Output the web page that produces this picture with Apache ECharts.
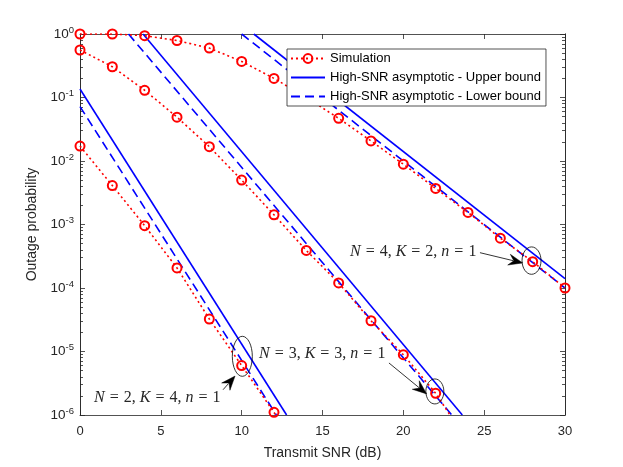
<!DOCTYPE html>
<html>
<head>
<meta charset="utf-8">
<script src="https://cdn.jsdelivr.net/npm/echarts@6/dist/echarts.min.js"></script>
<style>
  html, body { margin: 0; padding: 0; background: #fff; }
  #chart { width: 623px; height: 467px; }
</style>
</head>
<body>
<div id="chart"></div>
<script>
// x: transmit SNR (dB)
const snr = [0, 2, 4, 6, 8, 10, 12, 14, 16, 18, 20, 22, 24, 26, 28, 30];

// simulation points (outage probability)
const simN4K2 = [1.0, 1.0, 0.94, 0.79, 0.60, 0.37, 0.20, 0.10, 0.047, 0.0207, 0.0089, 0.0037, 0.00155, 6.1e-4, 2.6e-4, 1.0e-4];
const simN3K3 = [0.56, 0.305, 0.13, 0.049, 0.0168, 0.0050, 0.00142, 3.9e-4, 1.2e-4, 3.05e-5, 8.9e-6, 2.2e-6, 3.7e-7];
const simN2K4 = [0.0172, 0.0041, 9.6e-4, 2.07e-4, 3.25e-5, 6.0e-6, 1.1e-6, 1.6e-7];

// high-SNR asymptotes (straight in log scale, end points only)
const upperN4K2X = [10.75, 30], upperN4K2Y = [1, 1.4e-4];
const lowerN4K2X = [10, 30],    lowerN4K2Y = [1, 1.0e-4];
const upperN3K3X = [3.9, 23.65], upperN3K3Y = [1, 1e-6];
const lowerN3K3X = [3.0, 23.0],  lowerN3K3Y = [1, 1e-6];
const upperN2K4X = [0, 12.78],  upperN2K4Y = [0.136, 1e-6];
const lowerN2K4X = [0, 12.15],  lowerN2K4Y = [0.072, 1e-6];

// tick values
const decadeTicks = [1e-6, 1e-5, 1e-4, 1e-3, 1e-2, 1e-1, 1];
const minorTicks = [];
for (let e = -6; e < 0; e++) {
  for (let m = 2; m <= 9; m++) minorTicks.push(m * Math.pow(10, e));
}

const simName = 'Simulation';
const upName = 'High-SNR asymptotic - Upper bound';
const lowName = 'High-SNR asymptotic - Lower bound';

const axisColor = '#262626';
const sans = '"Liberation Sans", Arial, sans-serif';
const serif = '"Liberation Serif", serif';

function pairs(xs, ys) {
  return ys.map((y, i) => [xs[i], y]);
}

function simSeries(ys) {
  return {
    name: simName, type: 'line', data: pairs(snr, ys),
    symbol: 'circle', symbolSize: 9,
    itemStyle: { color: 'rgba(0,0,0,0)', borderColor: '#ff0000', borderWidth: 2 },
    lineStyle: { color: '#ff0000', width: 1.6, type: [2, 3] },
    color: '#ff0000',
    clip: true, z: 3
  };
}
function boundSeries(name, xs, ys, dashed) {
  return {
    name: name, type: 'line', data: pairs(xs, ys),
    showSymbol: false, symbol: 'none',
    color: '#0000ff',
    lineStyle: { color: '#0000ff', width: 1.6, type: dashed ? [9, 5] : 'solid' },
    clip: true, z: 2
  };
}

function logAxis(pos, withLabels, ticks, len) {
  return {
    type: 'log', logBase: 10, min: 1e-6, max: 1, position: pos,
    axisLine: { show: true, onZero: false, lineStyle: { color: axisColor, width: 0.8 } },
    axisTick: { show: true, inside: true, length: len, customValues: ticks, lineStyle: { color: axisColor, width: 0.8 } },
    axisLabel: withLabels ? {
      show: true, customValues: ticks, margin: 6, color: axisColor,
      formatter: v => '{b|10}{e|' + Math.round(Math.log10(v)) + '}',
      rich: {
        b: { fontFamily: sans, fontSize: 13.5, color: axisColor },
        e: { fontFamily: sans, fontSize: 9.5, color: axisColor, verticalAlign: 'top', padding: [0, 0, 8, 0] }
      }
    } : { show: false },
    splitLine: { show: false },
    minorTick: { show: false }
  };
}

let chart = echarts.init(document.getElementById('chart'));

let yMain = logAxis('left', true, decadeTicks, 5);
yMain.name = 'Outage probability';
yMain.nameLocation = 'middle';
yMain.nameGap = 40;
yMain.nameTextStyle = { fontFamily: sans, fontSize: 14, color: axisColor };

// bound entries: plain line in the legend, no marker
const noMarker = { color: 'rgba(0,0,0,0)', borderColor: 'rgba(0,0,0,0)', borderWidth: 0, opacity: 0 };

let option = {
  animation: false,
  backgroundColor: '#fff',
  grid: { left: 80, right: 58, top: 34, bottom: 52, containLabel: false },
  legend: {
    data: [
      { name: simName },
      { name: upName, itemStyle: noMarker },
      { name: lowName, itemStyle: noMarker }
    ],
    orient: 'vertical', left: 287, top: 49,
    itemWidth: 34, itemHeight: 11, itemGap: 6,
    padding: [3, 5, 3, 3],
    backgroundColor: '#fff', borderColor: axisColor, borderWidth: 0.8, borderRadius: 0,
    textStyle: { fontFamily: sans, fontSize: 13, color: '#000' }
  },
  xAxis: [{
    type: 'value', min: 0, max: 30, interval: 5, position: 'bottom',
    name: 'Transmit SNR (dB)', nameLocation: 'middle', nameGap: 31,
    nameTextStyle: { fontFamily: sans, fontSize: 14, color: axisColor },
    axisLine: { show: true, onZero: false, lineStyle: { color: axisColor, width: 0.8 } },
    axisTick: { show: true, inside: true, length: 5, lineStyle: { color: axisColor, width: 0.8 } },
    axisLabel: { fontFamily: sans, fontSize: 13, color: axisColor, margin: 10 },
    splitLine: { show: false }
  }, {
    type: 'value', min: 0, max: 30, interval: 5, position: 'top',
    axisLine: { show: true, onZero: false, lineStyle: { color: axisColor, width: 0.8 } },
    axisTick: { show: true, inside: true, length: 5, lineStyle: { color: axisColor, width: 0.8 } },
    axisLabel: { show: false },
    splitLine: { show: false }
  }],
  yAxis: [
    yMain,
    logAxis('left', false, minorTicks, 3),
    logAxis('right', false, decadeTicks, 5),
    logAxis('right', false, minorTicks, 3)
  ],
  series: [
    simSeries(simN4K2),
    simSeries(simN3K3),
    simSeries(simN2K4),
    boundSeries(upName, upperN4K2X, upperN4K2Y, false),
    boundSeries(upName, upperN3K3X, upperN3K3Y, false),
    boundSeries(upName, upperN2K4X, upperN2K4Y, false),
    boundSeries(lowName, lowerN4K2X, lowerN4K2Y, true),
    boundSeries(lowName, lowerN3K3X, lowerN3K3Y, true),
    boundSeries(lowName, lowerN2K4X, lowerN2K4Y, true)
  ]
};
chart.setOption(option);

// annotations: ellipse round a point, arrow, label (anchors in data units)
const ellipseCenters = [[10.04, 8.4e-6], [21.95, 2.35e-6], [27.93, 2.7e-4]];
const ellipseRadii = [[10, 20], [9, 12.5], [9.5, 13.7]];
const arrowTails = [[8.85, 2.5e-6], [19.11, 6.6e-6], [24.74, 3.6e-4]];
const arrowTips = [[9.59, 4.1e-6], [21.44, 2.15e-6], [27.38, 2.48e-4]];
const labelAnchors = [[0.87, 1.9e-6], [11.07, 9.2e-6], [16.7, 3.77e-4]];
const labelValues = [['2', '4', '1'], ['3', '3', '1'], ['4', '2', '1']];

function px(p) { return chart.convertToPixel({ seriesIndex: 0 }, p); }

let graphics = [];
ellipseCenters.forEach((c, i) => {
  let p = px(c);
  graphics.push({
    type: 'ellipse', silent: true, z: 10,
    shape: { cx: p[0], cy: p[1], rx: ellipseRadii[i][0], ry: ellipseRadii[i][1] },
    style: { fill: 'none', stroke: '#000', lineWidth: 0.8 }
  });
  let t = px(arrowTails[i]), h = px(arrowTips[i]);
  let dx = h[0] - t[0], dy = h[1] - t[1];
  let d = Math.sqrt(dx * dx + dy * dy);
  let ux = dx / d, uy = dy / d, nx = -uy, ny = ux;
  let L = 14, W = 5.5;
  graphics.push({
    type: 'line', silent: true, z: 10,
    shape: { x1: t[0], y1: t[1], x2: h[0] - ux * L * 0.7, y2: h[1] - uy * L * 0.7 },
    style: { stroke: '#000', lineWidth: 0.8 }
  });
  graphics.push({
    type: 'polygon', silent: true, z: 10,
    shape: { points: [
      [h[0], h[1]],
      [h[0] - ux * L + nx * W, h[1] - uy * L + ny * W],
      [h[0] - ux * L * 0.65, h[1] - uy * L * 0.65],
      [h[0] - ux * L - nx * W, h[1] - uy * L - ny * W]
    ] },
    style: { fill: '#000', stroke: '#000', lineWidth: 0.5 }
  });
  let a = px(labelAnchors[i]), v = labelValues[i];
  graphics.push({
    type: 'text', silent: true, z: 10, x: a[0], y: a[1],
    style: {
      text: '{i|N}{q|=}{r|' + v[0] + ', }{i|K}{q|=}{r|' + v[1] + ', }{i|n}{q|=}{r|' + v[2] + '}',
      verticalAlign: 'middle', align: 'left',
      rich: {
        i: { fontFamily: serif, fontStyle: 'italic', fontSize: 16, fill: axisColor },
        q: { fontFamily: serif, fontSize: 16, fill: axisColor, padding: [0, 5, 0, 5] },
        r: { fontFamily: serif, fontSize: 16, fill: axisColor }
      }
    }
  });
});
chart.setOption({ graphic: graphics });
</script>
</body>
</html>
